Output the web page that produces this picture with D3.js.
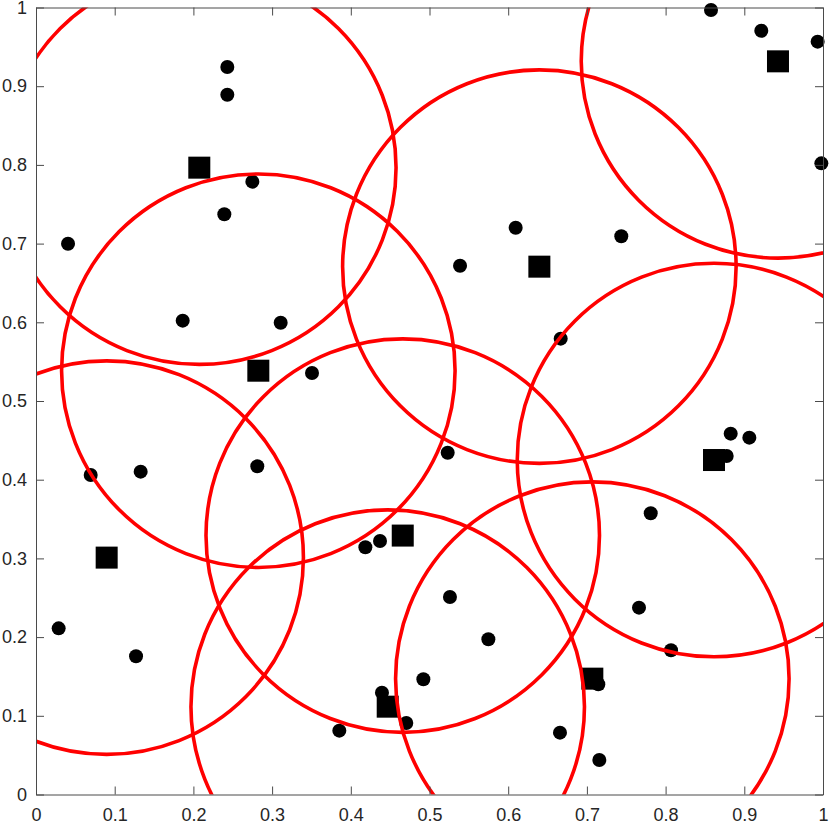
<!DOCTYPE html>
<html>
<head>
<meta charset="utf-8">
<script src="https://cdn.jsdelivr.net/npm/d3@7"></script>
<style>
  body { margin: 0; background: #fff; }
</style>
</head>
<body>
<div id="chart"></div>
<script>
// cluster centres (squares), each with a circle of radius 0.25
var centerX = [0.2075, 0.2825, 0.0898, 0.4660, 0.4469, 0.6396, 0.8615, 0.7069, 0.9428];
var centerY = [0.7965, 0.5385, 0.3010, 0.3290, 0.1116, 0.6707, 0.4250, 0.1472, 0.9316];
var radius = 0.25;

// sample points (dots)
var pointX = [0.2431, 0.2431, 0.2749, 0.2393, 0.0407, 0.1864, 0.3109, 0.3507,
  0.8577, 0.9216, 0.9932, 0.9979, 0.6095, 0.7437, 0.5388, 0.6667,
  0.0695, 0.1330, 0.2812, 0.4185, 0.4371, 0.0288, 0.1271, 0.4396, 0.4705, 0.3854, 0.4922,
  0.5231, 0.8827, 0.9064, 0.8776, 0.7811, 0.5260, 0.7662, 0.5748, 0.8069, 0.7145, 0.6658, 0.7158];
var pointY = [0.9244, 0.8892, 0.7787, 0.7372, 0.6999, 0.6021, 0.5995, 0.5356,
  0.9968, 0.9705, 0.9566, 0.8020, 0.7202, 0.7093, 0.6719, 0.5792,
  0.4060, 0.4102, 0.4170, 0.3141, 0.3221, 0.2111, 0.1756, 0.1294, 0.0908, 0.0811, 0.1464,
  0.4343, 0.4585, 0.4534, 0.4301, 0.3573, 0.2510, 0.2374, 0.1972, 0.1832, 0.1400, 0.0786, 0.0438];

var xTicks = [0, 0.1, 0.2, 0.3, 0.4, 0.5, 0.6, 0.7, 0.8, 0.9, 1];
var yTicks = [0, 0.1, 0.2, 0.3, 0.4, 0.5, 0.6, 0.7, 0.8, 0.9, 1];

var width = 830;
var height = 826;
var plotLeft = 36, plotRight = 823, plotTop = 7.5, plotBottom = 794.5;

var svg = d3.select("#chart")
  .append("svg")
  .attr("width", width)
  .attr("height", height);

var x = d3.scaleLinear().domain([0, 1]).range([plotLeft, plotRight]);
var y = d3.scaleLinear().domain([0, 1]).range([plotBottom, plotTop]);

svg.append("defs").append("clipPath")
  .attr("id", "plotClip")
  .append("rect")
  .attr("x", plotLeft)
  .attr("y", plotTop)
  .attr("width", plotRight - plotLeft)
  .attr("height", plotBottom - plotTop);

var points = d3.range(pointX.length).map(function (i) { return { x: pointX[i], y: pointY[i] }; });
var centers = d3.range(centerX.length).map(function (i) { return { x: centerX[i], y: centerY[i] }; });

svg.append("g")
  .selectAll("circle")
  .data(points)
  .enter()
  .append("circle")
  .attr("cx", function (d) { return x(d.x); })
  .attr("cy", function (d) { return y(d.y); })
  .attr("r", 7)
  .attr("fill", "black");

var sq = 22;
svg.append("g")
  .selectAll("rect")
  .data(centers)
  .enter()
  .append("rect")
  .attr("x", function (d) { return x(d.x) - sq / 2; })
  .attr("y", function (d) { return y(d.y) - sq / 2; })
  .attr("width", sq)
  .attr("height", sq)
  .attr("fill", "black");

svg.append("g")
  .attr("clip-path", "url(#plotClip)")
  .selectAll("circle")
  .data(centers)
  .enter()
  .append("circle")
  .attr("cx", function (d) { return x(d.x); })
  .attr("cy", function (d) { return y(d.y); })
  .attr("r", function (d) { return x(radius) - x(0); })
  .attr("fill", "none")
  .attr("stroke", "#ff0000")
  .attr("stroke-width", 3.6);

// axes, box style with inward ticks
function styleAxis(g) {
  g.attr("font-family", "'Liberation Sans', Arial, sans-serif").attr("font-size", 18);
  g.select(".domain").attr("stroke", "#4a4a4a").attr("stroke-width", 1);
  g.selectAll(".tick line").attr("stroke", "#4a4a4a").attr("stroke-width", 1);
  g.selectAll(".tick text").attr("fill", "#262626");
}

svg.append("g")
  .attr("transform", "translate(0," + plotBottom + ")")
  .call(d3.axisBottom(x).tickValues(xTicks).tickFormat(d3.format("")).tickSizeInner(-8).tickSizeOuter(0).tickPadding(14))
  .call(styleAxis);

svg.append("g")
  .attr("transform", "translate(" + plotLeft + ",0)")
  .call(d3.axisLeft(y).tickValues(yTicks).tickFormat(d3.format("")).tickSizeInner(-8).tickSizeOuter(0).tickPadding(9))
  .call(styleAxis);

svg.append("g")
  .attr("transform", "translate(0," + plotTop + ")")
  .call(d3.axisTop(x).tickValues(xTicks).tickFormat("").tickSizeInner(-8).tickSizeOuter(0))
  .call(styleAxis);

svg.append("g")
  .attr("transform", "translate(" + plotRight + ",0)")
  .call(d3.axisRight(y).tickValues(yTicks).tickFormat("").tickSizeInner(-8).tickSizeOuter(0))
  .call(styleAxis);
</script>
</body>
</html>
